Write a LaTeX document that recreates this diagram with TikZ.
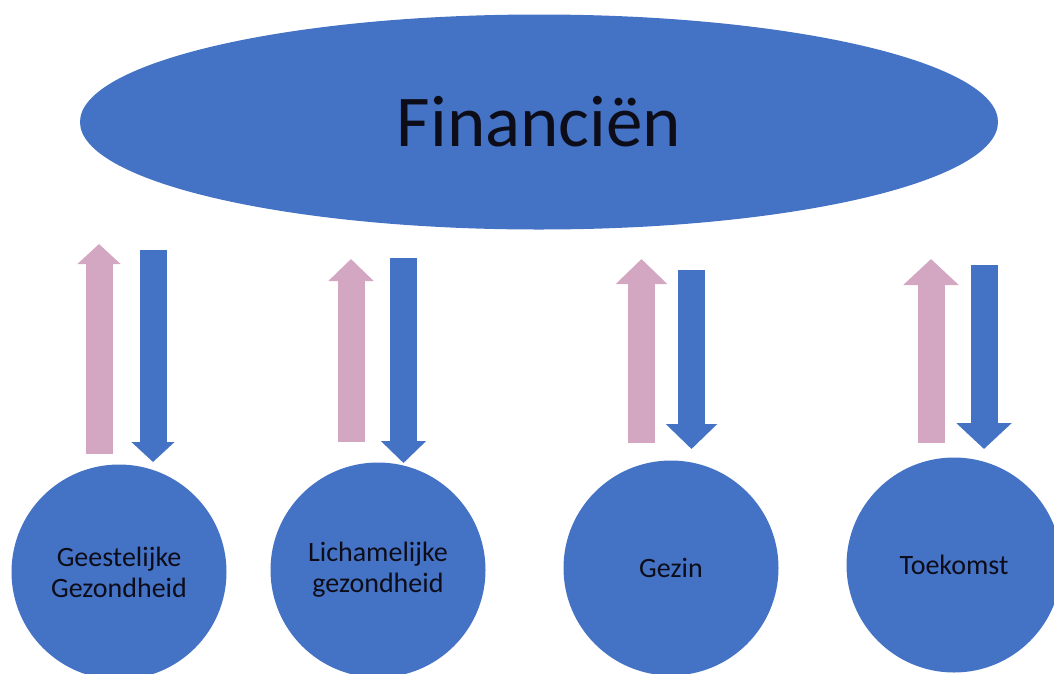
\documentclass[tikz,border=0pt]{standalone}
\usepackage{fontspec}
\setmainfont{Carlito}
\usetikzlibrary{arrows.meta,shapes.geometric}
\definecolor{OfficeBlue}{HTML}{4472C4}
\definecolor{Mauve}{HTML}{D3A6C2}
\definecolor{InkDark}{HTML}{0D0D1A}

\begin{document}
\begin{tikzpicture}[x=1pt,y=-1pt,
  topic/.style={circle,fill=OfficeBlue,minimum size=215pt,inner sep=0pt,align=center,
    font=\fontsize{28}{31}\selectfont,text=InkDark},
  uparr/.style={Mauve,line width=27pt},
  downarr/.style={OfficeBlue,line width=27pt}]
  \useasboundingbox (0,0) rectangle (1054,673);
  \node[ellipse,fill=OfficeBlue,minimum width=918pt,minimum height=215pt,inner sep=0pt,
    font=\fontsize{73}{80}\selectfont,text=InkDark] (fin) at (539,122) {Financiën};
  \node[topic] (geest) at (119,572) {Geestelijke\\Gezondheid};
  \node[topic] (lich) at (378,570) {Lichamelijke\\gezondheid};
  \node[topic] (gezin) at (671,568) {Gezin};
  \node[topic] (toek) at (954,565) {Toekomst};
  % pink up, blue down
  \foreach \n/\ux/\ut/\ub/\dx/\dt/\db/\hw/\hl in {
      1/99/244/454/153/250/462/42/20,
      2/351/259/442/403.5/258/463/44/22,
      3/641.5/259/443/691.5/270/449/50/25,
      4/931/259/443/984/265/449/54/26}{
    \coordinate (up\n s) at (\ux,\ub);
    \coordinate (up\n e) at (\ux,\ut);
    \coordinate (dn\n s) at (\dx,\dt);
    \coordinate (dn\n e) at (\dx,\db);
    \draw[uparr,-{Triangle[width=\hw pt,length=\hl pt]}] (up\n s) -- (up\n e);
    \draw[downarr,-{Triangle[width=\hw pt,length=\hl pt]}] (dn\n s) -- (dn\n e);
  }
\end{tikzpicture}
\end{document}
